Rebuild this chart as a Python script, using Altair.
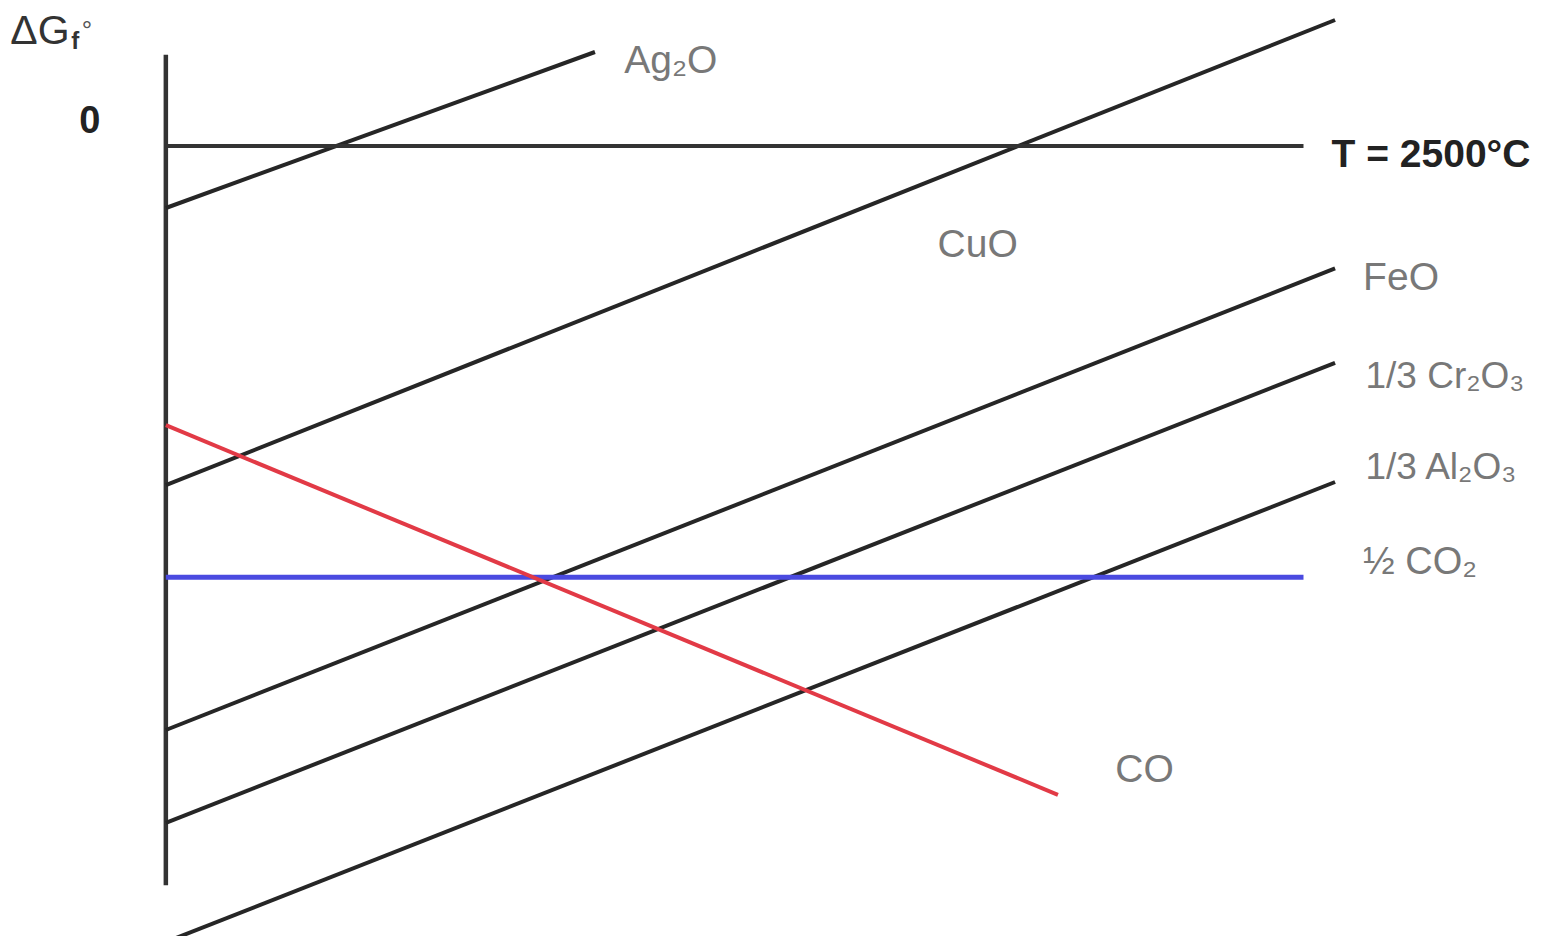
import altair as alt
import pandas as pd

# ---- data (abstract units: x = temperature-like 0..100, y = ΔG, 0 at the T line) ----
series_names = ["Ag2O", "CuO", "FeO", "Cr2O3", "Al2O3", "CO2", "CO", "zero"]
x_start = [0, 0, 0, 0, 0, 0, 0, 0]
y_start = [-7.75, -42.4, -73.0, -84.6, -99.5, -53.9, -34.9, 0.0]
x_end = [36.7, 100, 100, 100, 100, 97.3, 76.3, 97.3]
y_end = [11.75, 15.75, -15.3, -27.1, -42.0, -53.9, -81.1, 0.0]
line_colors = ["#262626", "#262626", "#262626", "#262626", "#262626", "#4a4ae0", "#e23a46", "#333333"]
line_widths = [4, 4, 4, 4, 4, 5, 4, 4]

axis_x = [0, 0]
axis_y = [11.4, -92.4]

label_texts = ["Ag₂O", "CuO", "FeO", "1/3 Cr₂O₃", "1/3 Al₂O₃", "½ CO₂", "CO"]
label_x = [39.2, 66.0, 102.4, 102.6, 102.6, 102.4, 81.2]
label_y = [10.6, -12.4, -16.5, -28.9, -40.3, -52.1, -78.0]
label_size = [39, 39, 39, 37, 37, 38, 39]

bold_texts = ["T = 2500°C", "0"]
bold_x = [99.7, -6.5]
bold_y = [-1.1, 3.0]
bold_align = ["left", "center"]

# ---- tables ----
rows = []
for i, s in enumerate(series_names):
    for o, (xv, yv) in enumerate([(x_start[i], y_start[i]), (x_end[i], y_end[i])]):
        rows.append({"s": s, "o": o, "x": xv, "y": yv, "c": line_colors[i], "w": line_widths[i]})
lines_df = pd.DataFrame(rows)
axis_df = pd.DataFrame({"x": axis_x, "y": axis_y, "o": [0, 1]})
labels_df = pd.DataFrame({"t": label_texts, "x": label_x, "y": label_y, "fs": label_size})
bold_df = pd.DataFrame({"t": bold_texts, "x": bold_x, "y": bold_y, "a": bold_align})

xs = alt.Scale(domain=[-13.5, 117.1], nice=False, zero=False)
ys = alt.Scale(domain=[-98.75, 17.25], nice=False, zero=False)
X = alt.X("x:Q", scale=xs, axis=None)
Y = alt.Y("y:Q", scale=ys, axis=None)

lines = alt.Chart(lines_df).mark_line(strokeCap="butt").encode(
    x=X, y=Y, order="o:Q",
    detail="s:N",
    color=alt.Color("c:N", scale=None),
    strokeWidth=alt.StrokeWidth("w:Q", scale=None),
)

vaxis = alt.Chart(axis_df).mark_line(color="#333333", strokeWidth=4.5, strokeCap="butt").encode(
    x=X, y=Y, order="o:Q"
)

labels = alt.Chart(labels_df).mark_text(
    align="left", baseline="middle", font="Liberation Sans", color="#787878"
).encode(x=X, y=Y, text="t:N", size=alt.Size("fs:Q", scale=None))

bold_left = alt.Chart(bold_df[bold_df.a == "left"]).mark_text(
    align="left", baseline="middle", font="Liberation Sans", fontSize=39, fontWeight="bold", color="#222222"
).encode(x=X, y=Y, text="t:N")

bold_center = alt.Chart(bold_df[bold_df.a == "center"]).mark_text(
    align="center", baseline="middle", font="Liberation Sans", fontSize=38, fontWeight="bold", color="#222222"
).encode(x=X, y=Y, text="t:N")

# y-axis title ΔGf° built from three pieces (subscript f, superscript °)
title_main = alt.Chart(pd.DataFrame({"t": ["ΔG"], "x": [-13.3], "y": [14.3]})).mark_text(
    align="left", baseline="middle", font="Liberation Sans", fontSize=41, color="#333333"
).encode(x=X, y=Y, text="t:N")
title_sub = alt.Chart(pd.DataFrame({"t": ["f"], "x": [-8.1], "y": [13.0]})).mark_text(
    align="left", baseline="middle", font="Liberation Sans", fontSize=24, fontWeight="bold", color="#333333"
).encode(x=X, y=Y, text="t:N")
title_sup = alt.Chart(pd.DataFrame({"t": ["°"], "x": [-7.2], "y": [14.4]})).mark_text(
    align="left", baseline="middle", font="Liberation Sans", fontSize=26, color="#555555"
).encode(x=X, y=Y, text="t:N")

chart = alt.layer(
    vaxis, lines, labels, bold_left, bold_center, title_main, title_sub, title_sup
).properties(
    width=1527, height=928, padding=0, autosize=alt.AutoSizeParams(type="none")
).configure_view(stroke=None)

chart.save("out.html", embed_options={"renderer": "svg", "actions": False})
